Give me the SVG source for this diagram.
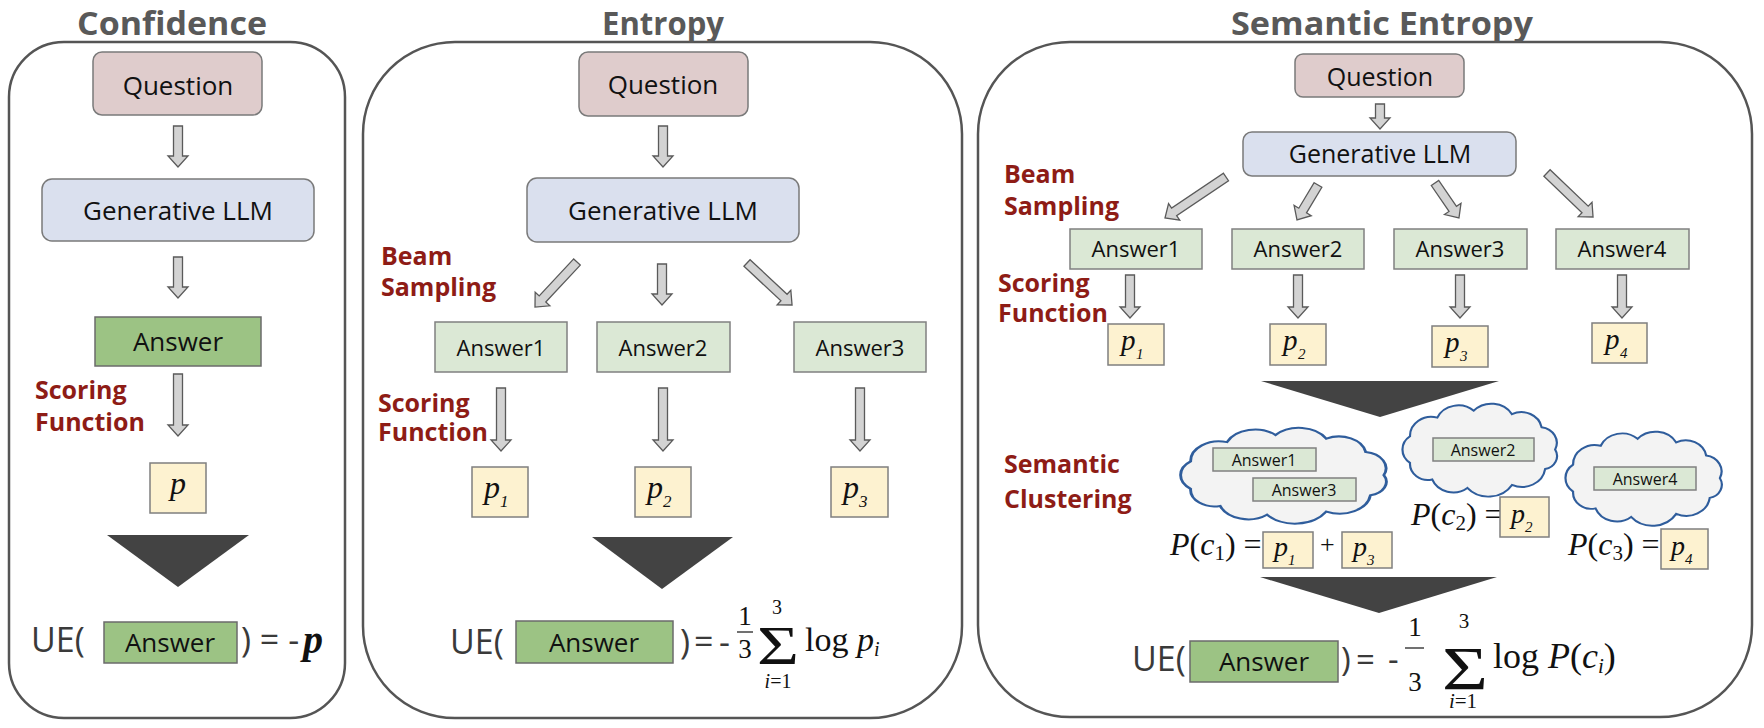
<svg xmlns="http://www.w3.org/2000/svg" width="1764" height="728" viewBox="0 0 1764 728">
<defs>
<style>
.panel{fill:#fff;stroke:#555;stroke-width:2.5}
.title{font-family:'Open Sans',sans-serif;font-weight:700;font-size:32px;fill:#595959;text-anchor:middle}
.q{fill:#dfcccc;stroke:#7a7a7a;stroke-width:1.5}
.llm{fill:#dae0ee;stroke:#7a7a7a;stroke-width:1.5}
.ans{fill:#9cc384;stroke:#6b6b6b;stroke-width:1.5}
.ansl{fill:#dbe8d5;stroke:#808080;stroke-width:1.5}
.pb{fill:#fdf2d0;stroke:#7f7f7f;stroke-width:1.5}
.t{font-family:'Open Sans',sans-serif;fill:#111;text-anchor:middle}
.red{font-family:'Open Sans',sans-serif;font-weight:700;font-size:25px;fill:#8e1c16}
.arr{fill:#d3d3d3;stroke:#5a5a5a;stroke-width:1.3}
.tri{fill:#434343}
.m{font-family:'Liberation Serif',serif;fill:#111}
.i{font-style:italic}
.cloud{fill:#f3f3f3;stroke:#2f5d9c;stroke-width:2.5;vector-effect:non-scaling-stroke}
.eq{font-family:'Open Sans',sans-serif;fill:#3a3a3a}
</style>
<path id="cloudShape" d="M19.2,79.1 A21.2,21.2 0 0 1 19.2,44.9 A24.5,24.5 0 0 1 50.6,21 A26.5,26.5 0 0 1 92.5,12.2 A27.4,27.4 0 0 1 136.4,16.7 A23.5,23.5 0 0 1 170.4,33.3 A20.3,20.3 0 0 1 186,62 A17,17 0 0 1 174.5,87 A26.8,26.8 0 0 1 136.4,107.3 A31.9,31.9 0 0 1 85.1,111.2 A25.9,25.9 0 0 1 44.7,100.3 A20.6,20.6 0 0 1 19.2,79.1 Z"/>
</defs>
<rect width="1764" height="728" fill="#fff"/>

<!-- Panels -->
<g id="panel-confidence">
<rect class="panel" x="9" y="42" width="336" height="676" rx="55"/>
<text class="title" x="172" y="35" textLength="190" lengthAdjust="spacingAndGlyphs">Confidence</text>
</g>
<g id="panel-entropy">
<rect class="panel" x="363" y="42" width="599" height="676" rx="92"/>
<text class="title" x="663" y="35" textLength="122" lengthAdjust="spacingAndGlyphs">Entropy</text>
</g>
<g id="panel-semantic">
<rect class="panel" x="978" y="42" width="774" height="675" rx="92"/>
<text class="title" x="1382" y="35" textLength="302" lengthAdjust="spacingAndGlyphs">Semantic Entropy</text>
</g>

<!-- Connectors -->
<g id="connectors">
<path class="arr" d="M173.5,126 H182.5 V156 H188 L178,167 L168,156 H173.5 Z"/>
<path class="arr" d="M173.5,257 H182.5 V287 H188 L178,298 L168,287 H173.5 Z"/>
<path class="arr" d="M173.5,374 H182.5 V425 H188 L178,436 L168,425 H173.5 Z"/>

<path class="arr" d="M658.5,126 H667.5 V156 H673 L663,167 L653,156 H658.5 Z"/>
<path class="arr" transform="translate(577,262) rotate(43)" d="M-4.5,0 H4.5 V50.6 H10 L0,61.6 L-10,50.6 H-4.5 Z"/>
<path class="arr" d="M657.5,264 H666.5 V294 H672 L662,305 L652,294 H657.5 Z"/>
<path class="arr" transform="translate(747,263) rotate(-47)" d="M-4.5,0 H4.5 V50.6 H10 L0,61.6 L-10,50.6 H-4.5 Z"/>
<path class="arr" d="M496.5,388 H505.5 V440 H511 L501,451 L491,440 H496.5 Z"/>
<path class="arr" d="M658.5,388 H667.5 V440 H673 L663,451 L653,440 H658.5 Z"/>
<path class="arr" d="M855.5,388 H864.5 V440 H870 L860,451 L850,440 H855.5 Z"/>

<path class="arr" d="M1375.5,104 H1384.5 V118 H1390 L1380,129 L1370,118 H1375.5 Z"/>
<path class="arr" transform="translate(1226,177) rotate(56.1)" d="M-4.5,0 H4.5 V62.5 H10 L0,73.5 L-10,62.5 H-4.5 Z"/>
<path class="arr" transform="translate(1318,185) rotate(31)" d="M-4.5,0 H4.5 V29.8 H10 L0,40.8 L-10,29.8 H-4.5 Z"/>
<path class="arr" transform="translate(1435,183) rotate(-34.4)" d="M-4.5,0 H4.5 V31.4 H10 L0,42.4 L-10,31.4 H-4.5 Z"/>
<path class="arr" transform="translate(1547,173) rotate(-46.3)" d="M-4.5,0 H4.5 V52.7 H10 L0,63.7 L-10,52.7 H-4.5 Z"/>
<path class="arr" d="M1125.5,275 H1134.5 V307 H1140 L1130,318 L1120,307 H1125.5 Z"/>
<path class="arr" d="M1293.5,275 H1302.5 V307 H1308 L1298,318 L1288,307 H1293.5 Z"/>
<path class="arr" d="M1455.5,275 H1464.5 V307 H1470 L1460,318 L1450,307 H1455.5 Z"/>
<path class="arr" d="M1617.5,275 H1626.5 V307 H1632 L1622,318 L1612,307 H1617.5 Z"/>

<polygon class="tri" points="107,535 249,535 178,587"/>
<polygon class="tri" points="592,537 733,537 662,589"/>
<polygon class="tri" points="1261,381 1499,381 1380,417"/>
<polygon class="tri" points="1260,577 1497,577 1379,613"/>
</g>

<!-- Panel 1 nodes -->
<g id="c-question"><rect class="q" x="93" y="52" width="169" height="63" rx="9"/><text class="t" x="178" y="95" font-size="26">Question</text></g>
<g id="c-llm"><rect class="llm" x="42" y="179" width="272" height="62" rx="10"/><text class="t" x="178" y="220" font-size="26">Generative LLM</text></g>
<g id="c-answer"><rect class="ans" x="95" y="317" width="166" height="49"/><text class="t" x="178" y="351" font-size="26">Answer</text></g>
<g id="c-scoring"><text class="red" x="35" y="399">Scoring</text><text class="red" x="35" y="431">Function</text></g>
<g id="c-p"><rect class="pb" x="150" y="463" width="56" height="50"/><text class="m i" x="178" y="494" font-size="32" text-anchor="middle">p</text></g>
<g id="c-ue">
<text class="eq" x="31" y="652" font-size="34">UE(</text>
<rect class="ans" x="104" y="622" width="133" height="41"/>
<text class="t" x="170" y="652" font-size="26">Answer</text>
<text class="eq" x="241" y="652" font-size="34">) = -</text>
<text class="m i" x="303" y="653" font-size="40" font-weight="700">p</text>
</g>

<!-- Panel 2 nodes -->
<g id="e-question"><rect class="q" x="579" y="52" width="169" height="64" rx="9"/><text class="t" x="663" y="94" font-size="26">Question</text></g>
<g id="e-llm"><rect class="llm" x="527" y="178" width="272" height="64" rx="10"/><text class="t" x="663" y="220" font-size="26">Generative LLM</text></g>
<g id="e-beam"><text class="red" x="381" y="265">Beam</text><text class="red" x="381" y="296">Sampling</text></g>
<g id="e-answer1"><rect class="ansl" x="435" y="322" width="132" height="50"/><text class="t" x="501" y="356" font-size="22">Answer1</text></g>
<g id="e-answer2"><rect class="ansl" x="597" y="322" width="133" height="50"/><text class="t" x="663" y="356" font-size="22">Answer2</text></g>
<g id="e-answer3"><rect class="ansl" x="794" y="322" width="132" height="50"/><text class="t" x="860" y="356" font-size="22">Answer3</text></g>
<g id="e-scoring"><text class="red" x="378" y="412">Scoring</text><text class="red" x="378" y="441">Function</text></g>
<g id="e-p1"><rect class="pb" x="472" y="467" width="56" height="50"/><text class="m i" x="484" y="498" font-size="32">p</text><text class="m i" x="500" y="507" font-size="17">1</text></g>
<g id="e-p2"><rect class="pb" x="635" y="467" width="56" height="50"/><text class="m i" x="647" y="498" font-size="32">p</text><text class="m i" x="663" y="507" font-size="17">2</text></g>
<g id="e-p3"><rect class="pb" x="831" y="467" width="57" height="50"/><text class="m i" x="843" y="498" font-size="32">p</text><text class="m i" x="859" y="507" font-size="17">3</text></g>
<g id="e-ue">
<text class="eq" x="450" y="654" font-size="34">UE(</text>
<rect class="ans" x="516" y="621" width="157" height="42"/>
<text class="t" x="594" y="652" font-size="26">Answer</text>
<text class="eq" x="680" y="654" font-size="34">)</text>
<text class="eq" x="694" y="654" font-size="34">=</text>
<text class="eq" x="719" y="654" font-size="34">-</text>
<text class="m" x="745" y="625" font-size="27" text-anchor="middle">1</text>
<line x1="737" y1="632" x2="753" y2="632" stroke="#111" stroke-width="1.2"/>
<text class="m" x="745" y="658" font-size="27" text-anchor="middle">3</text>
<text class="m" x="757" y="664" font-size="55" textLength="42" lengthAdjust="spacingAndGlyphs">Σ</text>
<text class="m" x="777" y="614" font-size="20" text-anchor="middle">3</text>
<text class="m" x="778" y="688" font-size="20" text-anchor="middle"><tspan class="i">i</tspan>=1</text>
<text class="m" x="805" y="651" font-size="34">log <tspan class="i">p</tspan><tspan class="i" font-size="20" dy="5">i</tspan></text>
</g>

<!-- Panel 3 nodes -->
<g id="s-question"><rect class="q" x="1295" y="54" width="169" height="43" rx="8"/><text class="t" x="1380" y="86" font-size="25">Question</text></g>
<g id="s-llm"><rect class="llm" x="1243" y="132" width="273" height="44" rx="9"/><text class="t" x="1380" y="163" font-size="25">Generative LLM</text></g>
<g id="s-beam"><text class="red" x="1004" y="183">Beam</text><text class="red" x="1004" y="215">Sampling</text></g>
<g id="s-answer1"><rect class="ansl" x="1070" y="229" width="132" height="40"/><text class="t" x="1136" y="257" font-size="22">Answer1</text></g>
<g id="s-answer2"><rect class="ansl" x="1232" y="229" width="132" height="40"/><text class="t" x="1298" y="257" font-size="22">Answer2</text></g>
<g id="s-answer3"><rect class="ansl" x="1394" y="229" width="133" height="40"/><text class="t" x="1460" y="257" font-size="22">Answer3</text></g>
<g id="s-answer4"><rect class="ansl" x="1556" y="229" width="133" height="40"/><text class="t" x="1622" y="257" font-size="22">Answer4</text></g>
<g id="s-scoring"><text class="red" x="998" y="292">Scoring</text><text class="red" x="998" y="322">Function</text></g>
<g id="s-p1"><rect class="pb" x="1108" y="324" width="56" height="41"/><text class="m i" x="1121" y="350" font-size="29">p</text><text class="m i" x="1136" y="359" font-size="15">1</text></g>
<g id="s-p2"><rect class="pb" x="1270" y="324" width="56" height="41"/><text class="m i" x="1283" y="350" font-size="29">p</text><text class="m i" x="1298" y="359" font-size="15">2</text></g>
<g id="s-p3"><rect class="pb" x="1432" y="326" width="56" height="41"/><text class="m i" x="1445" y="352" font-size="29">p</text><text class="m i" x="1460" y="361" font-size="15">3</text></g>
<g id="s-p4"><rect class="pb" x="1592" y="323" width="55" height="40"/><text class="m i" x="1605" y="349" font-size="29">p</text><text class="m i" x="1620" y="358" font-size="15">4</text></g>
<g id="s-clustering"><text class="red" x="1004" y="473">Semantic</text><text class="red" x="1004" y="508">Clustering</text></g>

<g id="s-cluster1">
<use href="#cloudShape" class="cloud" transform="translate(1168.4,425.2) scale(1.158,0.805)"/>
<rect class="ansl" x="1213" y="448" width="103" height="23"/><text class="t" x="1264" y="466" font-size="16">Answer1</text>
<rect class="ansl" x="1253" y="478" width="103" height="23"/><text class="t" x="1304" y="496" font-size="16">Answer3</text>
<text class="m" x="1170" y="555" font-size="32"><tspan class="i">P</tspan>(<tspan class="i">c</tspan><tspan font-size="21" dy="5">1</tspan><tspan dy="-5">) =</tspan></text>
<rect class="pb" x="1263" y="532" width="50" height="36"/><text class="m i" x="1274" y="556" font-size="28">p</text><text class="m i" x="1288" y="565" font-size="15">1</text>
<text class="m" x="1320" y="553" font-size="26" fill="#666">+</text>
<rect class="pb" x="1342" y="532" width="50" height="36"/><text class="m i" x="1353" y="556" font-size="28">p</text><text class="m i" x="1367" y="565" font-size="15">3</text>
</g>
<g id="s-cluster2">
<use href="#cloudShape" class="cloud" transform="translate(1393.3,401.2) scale(0.870,0.780)"/>
<rect class="ansl" x="1433" y="438" width="101" height="23"/><text class="t" x="1483" y="456" font-size="16">Answer2</text>
<text class="m" x="1411" y="525" font-size="32"><tspan class="i">P</tspan>(<tspan class="i">c</tspan><tspan font-size="21" dy="5">2</tspan><tspan dy="-5">) =</tspan></text>
<rect class="pb" x="1500" y="497" width="49" height="40"/><text class="m i" x="1511" y="523" font-size="28">p</text><text class="m i" x="1525" y="532" font-size="15">2</text>
</g>
<g id="s-cluster3">
<use href="#cloudShape" class="cloud" transform="translate(1556.2,429.2) scale(0.880,0.789)"/>
<rect class="ansl" x="1594" y="467" width="102" height="23"/><text class="t" x="1645" y="485" font-size="16">Answer4</text>
<text class="m" x="1568" y="555" font-size="32"><tspan class="i">P</tspan>(<tspan class="i">c</tspan><tspan font-size="21" dy="5">3</tspan><tspan dy="-5">) =</tspan></text>
<rect class="pb" x="1661" y="529" width="47" height="40"/><text class="m i" x="1671" y="555" font-size="28">p</text><text class="m i" x="1685" y="564" font-size="15">4</text>
</g>

<g id="s-ue">
<text class="eq" x="1132" y="671" font-size="34">UE(</text>
<rect class="ans" x="1190" y="641" width="148" height="41"/>
<text class="t" x="1264" y="671" font-size="26">Answer</text>
<text class="eq" x="1341" y="671" font-size="33">)</text>
<text class="eq" x="1356" y="671" font-size="33">=</text>
<text class="eq" x="1388" y="671" font-size="33">-</text>
<text class="m" x="1415" y="636" font-size="27" text-anchor="middle">1</text>
<line x1="1405" y1="648" x2="1424" y2="648" stroke="#111" stroke-width="1.2"/>
<text class="m" x="1415" y="691" font-size="27" text-anchor="middle">3</text>
<text class="m" x="1442" y="689" font-size="62" textLength="46" lengthAdjust="spacingAndGlyphs">Σ</text>
<text class="m" x="1464" y="628" font-size="21" text-anchor="middle">3</text>
<text class="m" x="1463" y="708" font-size="21" text-anchor="middle"><tspan class="i">i</tspan>=1</text>
<text class="m" x="1493" y="668" font-size="36">log <tspan class="i">P</tspan>(<tspan class="i">c</tspan><tspan class="i" font-size="21" dy="5">i</tspan><tspan dy="-5">)</tspan></text>
</g>
</svg>
